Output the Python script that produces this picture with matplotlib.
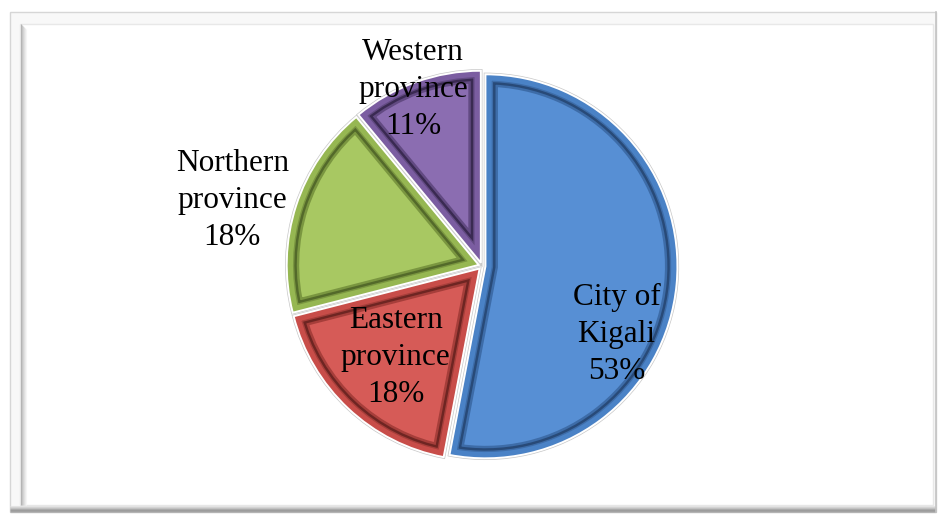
import matplotlib
matplotlib.use('Agg')
import matplotlib.pyplot as plt
from matplotlib.patches import Rectangle, Wedge

labels = ['City of\nKigali', 'Eastern\nprovince', 'Northern\nprovince', 'Western\nprovince']
percents = ['53%', '18%', '18%', '11%']
values = [53, 18, 18, 11]
colors = ['#578FD4', '#D65B57', '#A8C862', '#8B6DB1']
rim_colors = ['#4A82C6', '#C84D49', '#96B752', '#7B5DA1']
mid_colors = ['#3D6CA8', '#A63E3A', '#7A9640', '#624A82']
dark_colors = ['#284A78', '#6E2522', '#53692A', '#3A2A52']
label_xy = [(0.70, -0.355), (-0.45, -0.475), (-1.30, 0.34), (-0.36, 0.92)]

W, H = 938, 514
CX, CY, R = 482, 266, 192

fig = plt.figure(figsize=(W / 100, H / 100), dpi=100)
fig.patch.set_facecolor('white')

bg = fig.add_axes([0, 0, 1, 1])
bg.set_xlim(0, W)
bg.set_ylim(H, 0)
bg.axis('off')
bg.add_patch(Rectangle((10, 12), 926, 500, facecolor='#F8F8F8', edgecolor='#D6D6D6', lw=1))
bg.add_patch(Rectangle((20, 24), 913, 481, facecolor='white', edgecolor='#E8E8E8', lw=1))
shade = ['#B4B4B4', '#C6C6C6', '#D4D4D4', '#E0E0E0', '#EBEBEB', '#F5F5F5']
for i, c in enumerate(shade):
    bg.plot([20.5 + i, 20.5 + i], [24 + i, 505], color=c, lw=0.8, solid_capstyle='butt')
bottom = ['#E4E4E4', '#D4D4D4', '#C4C4C4', '#ACACAC', '#9C9C9C', '#A2A2A2', '#B4B4B4']
for i, c in enumerate(bottom):
    bg.plot([10, 936], [505.5 + i, 505.5 + i], color=c, lw=0.8, solid_capstyle='butt')
bg.plot([936, 936], [12, 512], color='#C4C4C4', lw=1.2)

ax = fig.add_axes([0, 0, 1, 1])
ax.patch.set_alpha(0)
wedges, _ = ax.pie(values, startangle=90, counterclock=False, colors=colors,
                   explode=[0.018] * len(values), radius=1,
                   wedgeprops=dict(edgecolor='#C8C8C8', linewidth=2.4))
ax.set_aspect('auto')
ax.set_xlim(-CX / R, (W - CX) / R)
ax.set_ylim((CY - H) / R, CY / R)
ax.axis('off')

for i, w in enumerate(wedges):
    for lw, col in [(18, mid_colors[i]), (14.5, dark_colors[i]), (11, mid_colors[i]), (9, rim_colors[i])]:
        b = Wedge(w.center, w.r, w.theta1, w.theta2, facecolor='none',
                  edgecolor=col, lw=lw, joinstyle='miter')
        ax.add_patch(b)
        b.set_clip_path(w)
    b3 = Wedge(w.center, w.r, w.theta1, w.theta2, facecolor='none',
               edgecolor='white', lw=1.4, joinstyle='miter')
    ax.add_patch(b3)

for lab, pct, (x, y) in zip(labels, percents, label_xy):
    ax.text(x, y, lab + '\n' + pct, ha='center', va='center', multialignment='center',
            fontsize=22.5, family='Liberation Serif', color='black', linespacing=1.36)

fig.savefig('out.png', dpi=100)
